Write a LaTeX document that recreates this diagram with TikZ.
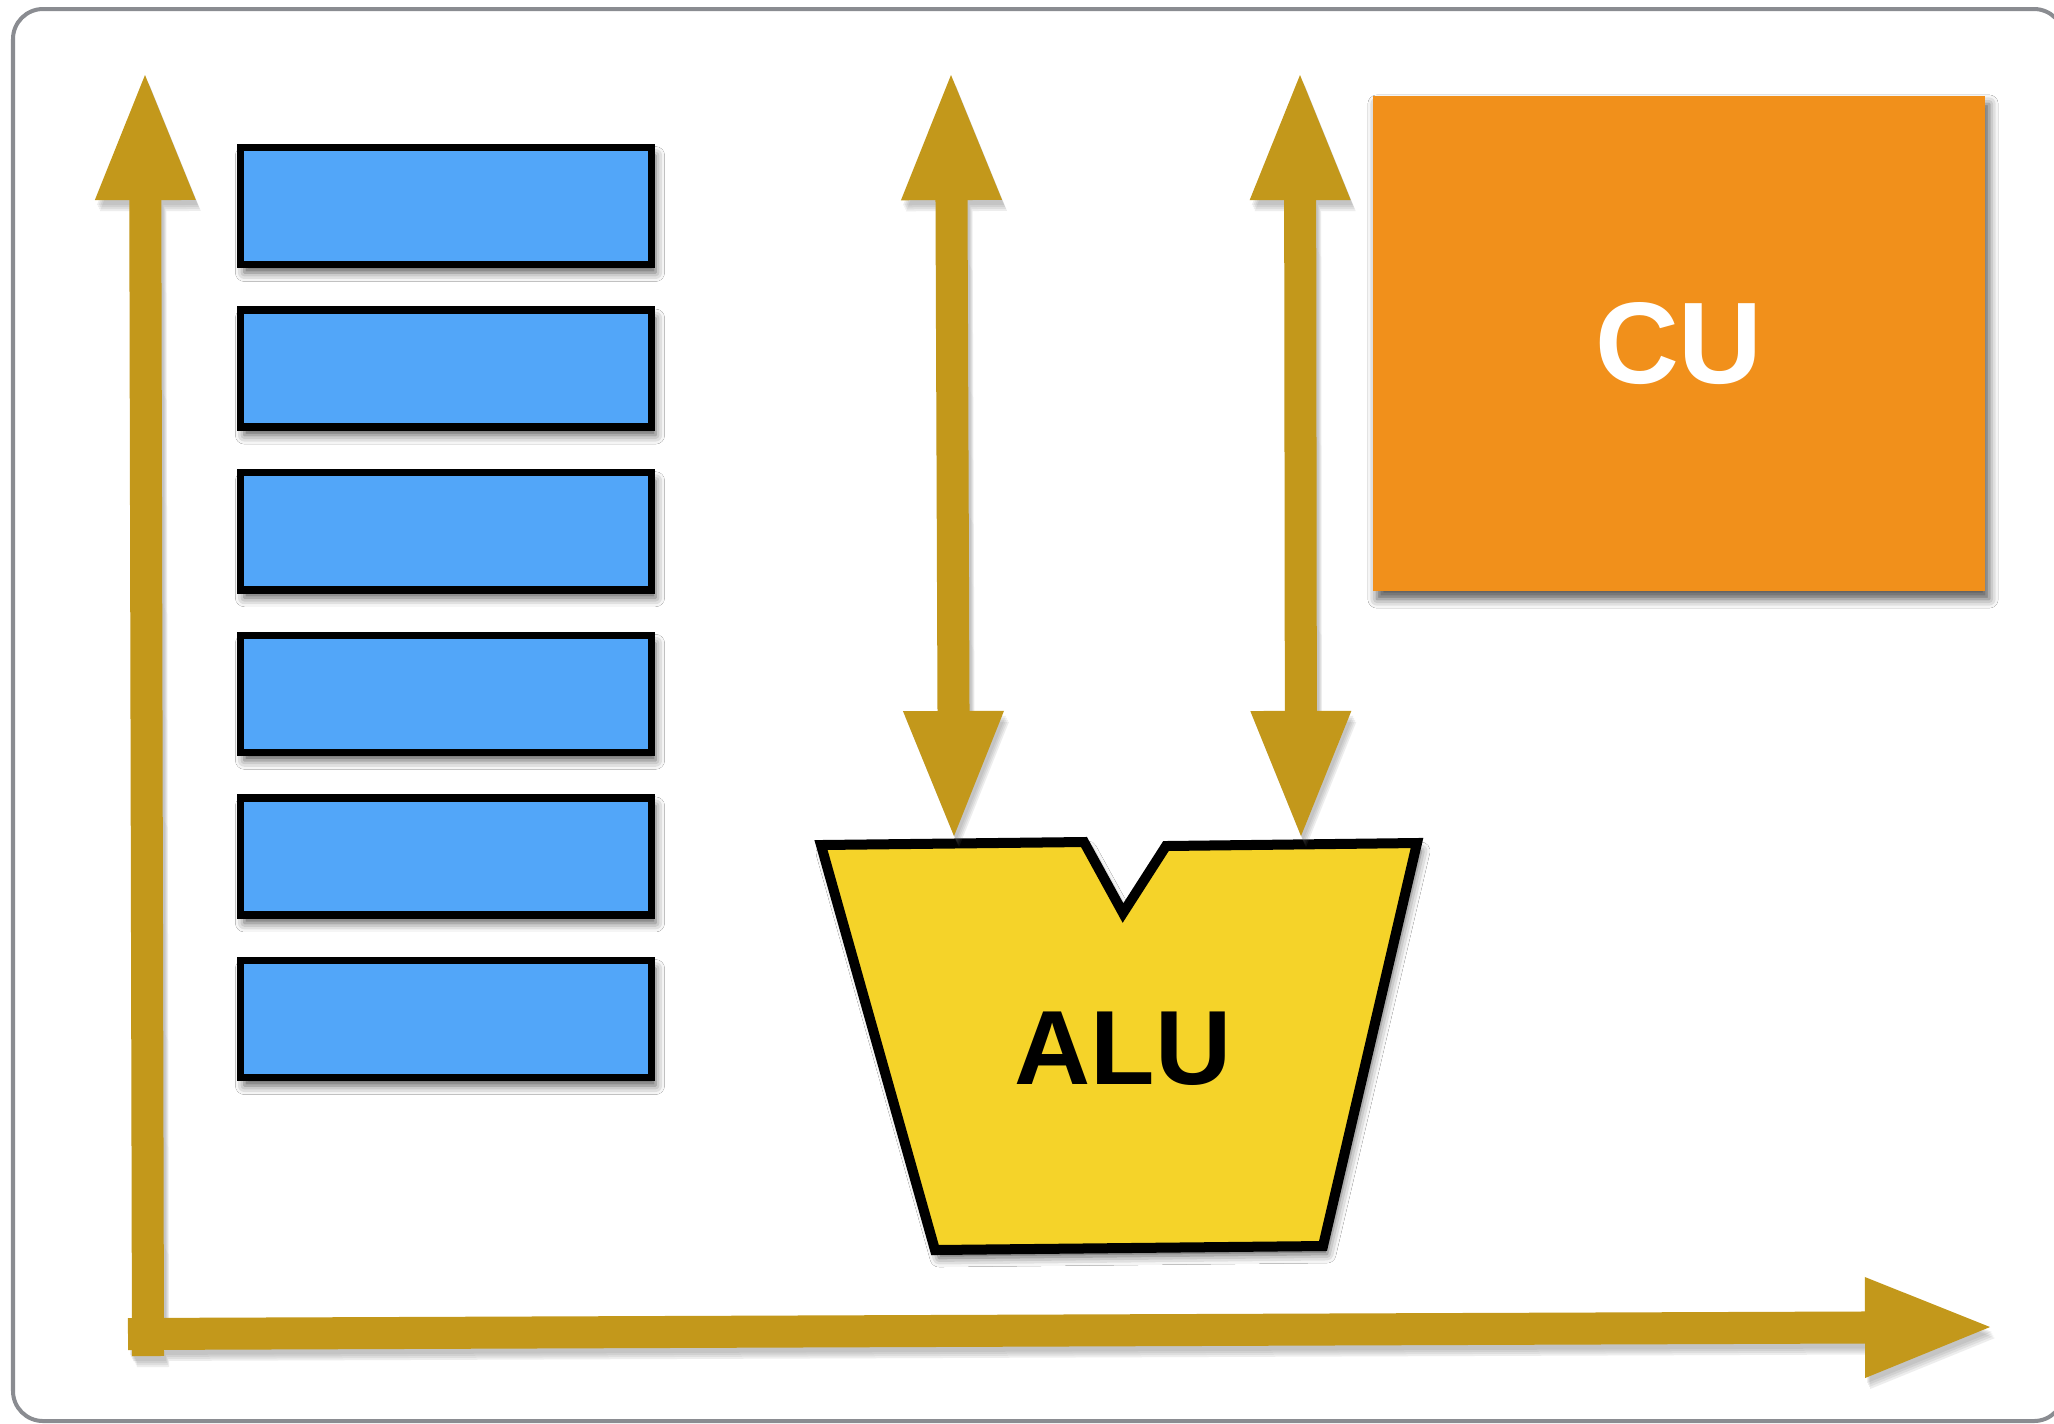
\documentclass[tikz,border=0pt]{standalone}
\usepackage{fontspec}
\setmainfont{Liberation Sans}
\usetikzlibrary{arrows.meta,shadows.blur}
\definecolor{gold}{RGB}{195,152,27}
\definecolor{regblue}{RGB}{82,166,249}
\definecolor{aluyellow}{RGB}{245,211,41}
\definecolor{cuorange}{RGB}{241,144,27}
\definecolor{framegray}{RGB}{138,140,145}
\begin{document}
\begin{tikzpicture}[x=0.01cm,y=-0.01cm,
  softshadow/.style={blur shadow={shadow xshift=0.04cm,shadow yshift=-0.08cm,shadow blur radius=0.09cm,shadow opacity=65}},
  regbox/.style={draw=black,line width=0.075cm,fill=regblue,minimum width=4.11cm,minimum height=1.17cm,inner sep=0pt,softshadow},
  cubox/.style={fill=cuorange,minimum width=6.12cm,minimum height=4.95cm,inner sep=0pt,softshadow,text=white,font=\bfseries\fontsize{33}{40}\selectfont},
  alushape/.style={draw=black,line width=0.1cm,line join=miter,fill=aluyellow,softshadow},
  tiph/.tip={Triangle[width=1.01cm,length=1.25cm,line width=0pt]},
  bus/.style={draw=gold,line width=0.32cm,line cap=butt},
  busshadow/.style={draw=black!55,line width=0.32cm,line cap=butt}
]
\useasboundingbox (0,0) rectangle (2054,1423);
\clip (0,0) rectangle (2054,1423);
\fill[white] (0,0) rectangle (2054,1423);
% frame
\draw[framegray,line width=0.04cm,rounded corners=0.3cm] (13,9) rectangle (2064,1421);

% coordinates
\coordinate (ytop) at (145,75);
\coordinate (ybot) at (148,1356);
\coordinate (xleft) at (128,1334);
\coordinate (xtip) at (1990,1327);
\coordinate (atop) at (951,75);
\coordinate (ain) at (954,836);
\coordinate (btop) at (1300,75);
\coordinate (bin) at (1301,836);

% registers
\foreach \i in {0,...,5}{
  \node[regbox] (reg\i) at (446,{206+162.6*\i}) {};
}

% CU
\node[cubox] (cu) at (1679,343.5) {CU};

% ALU
\draw[alushape] (821,845) -- (1084,842) -- (1123,913) -- (1166,846) -- (1417,843) -- (1323,1246) -- (935,1250) -- cycle;
\node[font=\bfseries\fontsize{30}{36}\selectfont] (alu) at (1123,1049) {ALU};

% arrow shadows (soft, several faint copies)
\foreach \dx/\dy in {0.02/-0.05,0.03/-0.07,0.04/-0.09,0.05/-0.11}{
\begin{scope}[transparency group,opacity=0.12,transform canvas={shift={(\dx cm,\dy cm)}}]
  \draw[busshadow,-tiph] (ybot) -- (ytop);
  \draw[busshadow,tiph-tiph] (atop) -- (ain);
  \draw[busshadow,tiph-tiph] (btop) -- (bin);
  \draw[busshadow,-tiph] (xleft) -- (xtip);
\end{scope}
}

% buses
\draw[bus,-tiph] (ybot) -- (ytop);
\draw[bus,tiph-tiph] (atop) -- (ain);
\draw[bus,tiph-tiph] (btop) -- (bin);
\draw[bus,-tiph] (xleft) -- (xtip);
\end{tikzpicture}
\end{document}
